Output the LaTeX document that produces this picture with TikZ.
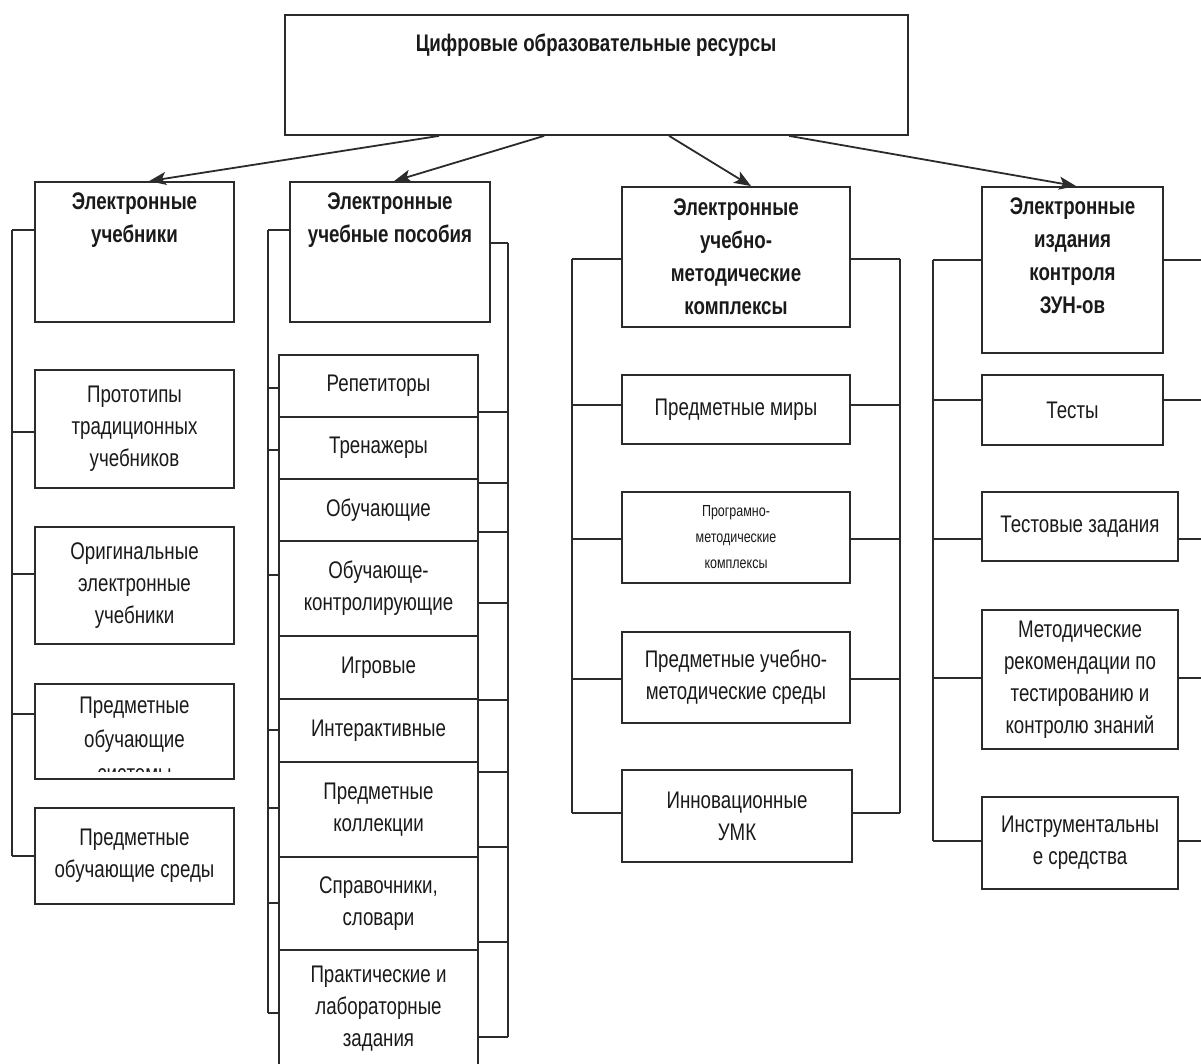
\documentclass[tikz,border=0pt]{standalone}
\usepackage{fontspec}
\setmainfont{Liberation Sans}[FakeStretch=0.78]
\usetikzlibrary{arrows.meta}
\definecolor{lc}{HTML}{2B2B2B}
\definecolor{tc}{HTML}{1A1A1A}
\tikzset{
  ln/.style={draw=lc, line width=1.8pt},
  bx/.style={ln, rectangle, inner sep=0pt, fill=white},
  txt/.style={align=center, text=tc, font=\fontsize{24}{32}\selectfont},
  btxt/.style={align=center, text=tc, inner sep=0pt, font=\fontsize{24}{33}\selectfont\bfseries},
  stxt/.style={align=center, text=tc, font=\fontsize{16}{26}\selectfont},
  arr/.style={ln, -{Stealth[length=17pt,width=13pt,inset=4pt]}}
}
% \mkbox[style]{name}{x1}{y1}{x2}{y2}{text}
\newcommand\mkbox[7][txt]{\node[bx,#1,minimum width={(#5-#3)*1pt},minimum height={(#6-#4)*1pt}] (#2) at ({(#3+#5)/2},{(#4+#6)/2}) {#7};}
% \tk{node anchor}{bus coordinate}{y}
\newcommand\tk[3]{\draw[ln] (#1 |- 0,#3) -- (#2 |- 0,#3);}
\begin{document}
\begin{tikzpicture}[x=1pt,y=-1pt]
\useasboundingbox (0,0) rectangle (1201,1064);
\clip (0,0) rectangle (1201,1064);

% ---- top ----
\mkbox{top}{285}{15}{908}{135}{}
\node[btxt, anchor=north] (toptxt) at (596,34) {Цифровые образовательные ресурсы};

% ---- column 1 ----
\mkbox{c1h}{35}{182}{234}{322}{}
\node[btxt, anchor=north] (c1ht) at (134.5,193) {Электронные\\учебники};
\mkbox{c1a}{35}{370}{234}{488}{Прототипы\\традиционных\\учебников}
\mkbox{c1b}{35}{527}{234}{644}{Оригинальные\\электронные\\учебники}
\begin{scope}
  \clip (35,684) rectangle (234,771);
  \node[align=center, text=tc, font=\fontsize{24}{34}\selectfont, anchor=north, inner sep=0pt] (c1ct) at (134.5,697) {Предметные\\обучающие\\системы};
\end{scope}
\mkbox[txt,fill=none]{c1c}{35}{684}{234}{779}{}
\mkbox{c1d}{35}{808}{234}{904}{Предметные\\обучающие среды}

\coordinate (L1t) at (12,230);
\coordinate (L1b) at (12,856);
\draw[ln] (L1t) -- (L1b);
\tk{c1h.west}{L1t}{230}
\tk{c1a.west}{L1t}{432}
\tk{c1b.west}{L1t}{574}
\tk{c1c.west}{L1t}{714}
\tk{c1d.west}{L1t}{856}

% ---- column 2 ----
\mkbox{c2h}{290}{182}{490}{322}{}
\node[btxt, anchor=north] (c2ht) at (390,193) {Электронные\\учебные пособия};
\mkbox{r1}{279}{355}{478}{417}{Репетиторы}
\mkbox{r2}{279}{417}{478}{479}{Тренажеры}
\mkbox{r3}{279}{479}{478}{541}{Обучающие}
\mkbox{r4}{279}{541}{478}{636}{Обучающе-\\контролирующие}
\mkbox{r5}{279}{636}{478}{699}{Игровые}
\mkbox{r6}{279}{699}{478}{762}{Интерактивные}
\mkbox{r7}{279}{762}{478}{857}{Предметные\\коллекции}
\mkbox{r8}{279}{857}{478}{950}{Справочники,\\словари}
\mkbox{r9}{279}{950}{478}{1068}{Практические и\\лабораторные\\задания}

\coordinate (L2t) at (268,230);
\coordinate (L2b) at (268,1013);
\draw[ln] (L2t) -- (L2b);
\tk{c2h.west}{L2t}{230}
\tk{r1.west}{L2t}{388}
\tk{r2.west}{L2t}{450}
\tk{r4.west}{L2t}{575}
\tk{r6.west}{L2t}{730}
\tk{r7.west}{L2t}{808}
\tk{r8.west}{L2t}{903}
\tk{r9.west}{L2t}{1013}

\coordinate (R2t) at (508,243);
\coordinate (R2b) at (508,1037);
\draw[ln] (R2t) -- (R2b);
\tk{c2h.east}{R2t}{243}
\tk{r1.east}{R2t}{412}
\tk{r3.east}{R2t}{483}
\tk{r3.east}{R2t}{532}
\tk{r4.east}{R2t}{603}
\tk{r6.east}{R2t}{700}
\tk{r7.east}{R2t}{772}
\tk{r7.east}{R2t}{847}
\tk{r8.east}{R2t}{942}
\tk{r9.east}{R2t}{1037}

% ---- column 3 ----
\mkbox[btxt]{c3h}{622}{187}{850}{327}{Электронные\\учебно-\\методические\\комплексы}
\mkbox{c3a}{622}{375}{850}{444}{Предметные миры}
\mkbox[stxt]{c3b}{622}{492}{850}{583}{Програмно-\\методические\\комплексы}
\mkbox{c3c}{622}{632}{850}{723}{Предметные учебно-\\методические среды}
\mkbox{c3d}{622}{770}{852}{862}{Инновационные\\УМК}

\coordinate (L3t) at (572,259);
\coordinate (L3b) at (572,813);
\draw[ln] (L3t) -- (L3b);
\coordinate (R3t) at (900,259);
\coordinate (R3b) at (900,813);
\draw[ln] (R3t) -- (R3b);
\tk{c3h.west}{L3t}{259}
\tk{c3a.west}{L3t}{405}
\tk{c3b.west}{L3t}{539}
\tk{c3c.west}{L3t}{679}
\tk{c3d.west}{L3t}{813}
\tk{c3h.east}{R3t}{259}
\tk{c3a.east}{R3t}{405}
\tk{c3b.east}{R3t}{539}
\tk{c3c.east}{R3t}{679}
\tk{c3d.east}{R3t}{813}

% ---- column 4 ----
\mkbox{c4h}{982}{187}{1163}{353}{}
\node[btxt, anchor=north] (c4ht) at (1072.5,198) {Электронные\\издания\\контроля\\ЗУН-ов};
\mkbox{c4a}{982}{375}{1163}{445}{Тесты}
\mkbox{c4b}{982}{492}{1178}{561}{Тестовые задания}
\mkbox{c4c}{982}{610}{1178}{749}{Методические\\рекомендации по\\тестированию и\\контролю знаний}
\mkbox{c4d}{982}{797}{1178}{889}{Инструментальны\\е средства}

\coordinate (L4t) at (933,260);
\coordinate (L4b) at (933,841);
\draw[ln] (L4t) -- (L4b);
\coordinate (E4) at (1210,0);
\tk{c4h.west}{L4t}{260}
\tk{c4a.west}{L4t}{400}
\tk{c4b.west}{L4t}{539}
\tk{c4c.west}{L4t}{678}
\tk{c4d.west}{L4t}{841}
\tk{c4h.east}{E4}{260}
\tk{c4a.east}{E4}{400}
\tk{c4b.east}{E4}{539}
\tk{c4c.east}{E4}{678}
\tk{c4d.east}{E4}{841}

% ---- arrows ----
\draw[arr] ([xshift=155pt]top.south west) -- ([xshift=115pt]c1h.north west);
\draw[arr] ([xshift=260pt]top.south west) -- ([xshift=105pt]c2h.north west);
\draw[arr] ([xshift=385pt]top.south west) -- ([xshift=130pt]c3h.north west);
\draw[arr] ([xshift=505pt]top.south west) -- ([xshift=95pt]c4h.north west);
\end{tikzpicture}
\end{document}
